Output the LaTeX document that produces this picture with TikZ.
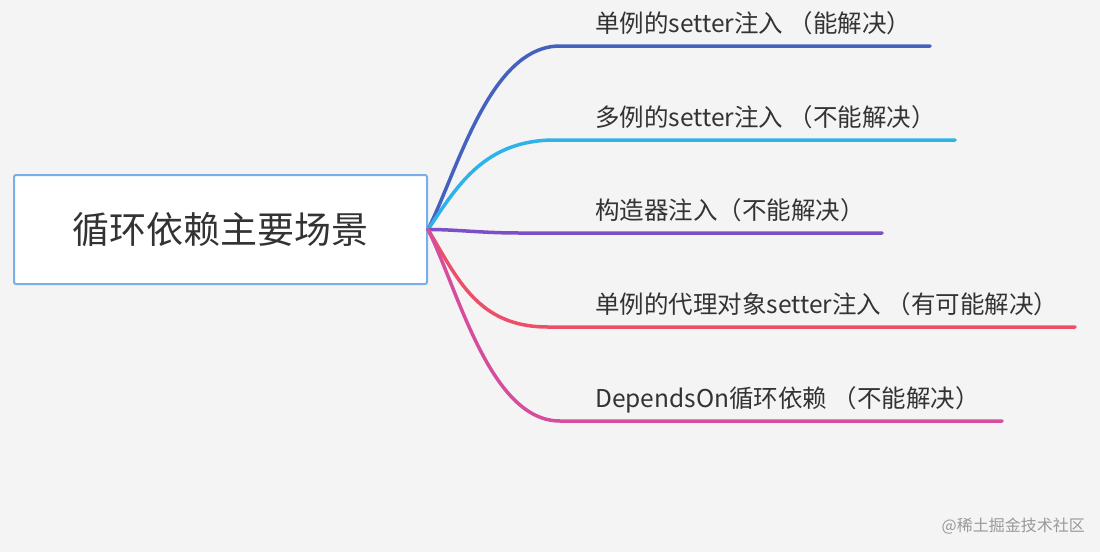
\documentclass[tikz,border=0pt]{standalone}
\usepackage{fontspec}
\setmainfont{Noto Sans CJK SC}
\usetikzlibrary{positioning}
\definecolor{bgc}{HTML}{F4F4F4}
\definecolor{rootc}{HTML}{78AEEA}
\definecolor{textc}{HTML}{333333}
\definecolor{bra}{HTML}{4461C0}
\definecolor{brb}{HTML}{2DB3EA}
\definecolor{brc}{HTML}{7B4FC8}
\definecolor{brd}{HTML}{EC5068}
\definecolor{bre}{HTML}{D64D9E}
\begin{document}
\begin{tikzpicture}[x=1pt,y=-1pt,
 root/.style={draw=rootc,line width=2pt,fill=white,rounded corners=2pt,
 minimum width=413pt,minimum height=109pt,
 font=\fontsize{37}{43}\selectfont,text=textc},
 leaf/.style={anchor=base west,inner sep=0pt,
 font=\fontsize{24.5}{29}\selectfont,text=textc},
 branch/.style={line width=3.5pt,line cap=round}]
\fill[bgc] (0,0) rectangle (1100,552);
\useasboundingbox (0,0) rectangle (1100,552);
% root
\node[root] (root) at (220.5,229.5) {循环依赖主要场景};
% branch ends
\coordinate (sa) at (560,46); \coordinate (ea) at (930,46);
\coordinate (sb) at (555,140); \coordinate (eb) at (955,140);
\coordinate (sc) at (520,233); \coordinate (ec) at (882,233);
\coordinate (sd) at (548,327); \coordinate (ed) at (1075,327);
\coordinate (se) at (560,421); \coordinate (ee) at (1002,421);
% branches
\draw[branch,bra] (root.east) .. controls +(30,-60) and +(-70,0) .. (sa) -- (ea);
\draw[branch,brb] (root.east) .. controls +(30,-45) and +(-70,0) .. (sb) -- (eb);
\draw[branch,brc] (root.east) .. controls +(30,0) and +(-40,0) .. (sc) -- (ec);
\draw[branch,brd] (root.east) .. controls +(30,50) and +(-70,0) .. (sd) -- (ed);
\draw[branch,bre] (root.east) .. controls +(30,60) and +(-70,0) .. (se) -- (ee);
% labels
\node[leaf] (la) at (595,32) {单例的setter注入 （能解决）};
\node[leaf] (lb) at (595,126) {多例的setter注入 （不能解决）};
\node[leaf] (lc) at (595,219) {构造器注入（不能解决）};
\node[leaf] (ld) at (595,313) {单例的代理对象setter注入 （有可能解决）};
\node[leaf] (le) at (595,407) {DependsOn循环依赖 （不能解决）};
\node[anchor=base east,inner sep=0pt,font=\fontsize{16}{18}\selectfont,
 text=black!40] (mark) at (1085,531) {@稀土掘金技术社区};
\end{tikzpicture}
\end{document}
